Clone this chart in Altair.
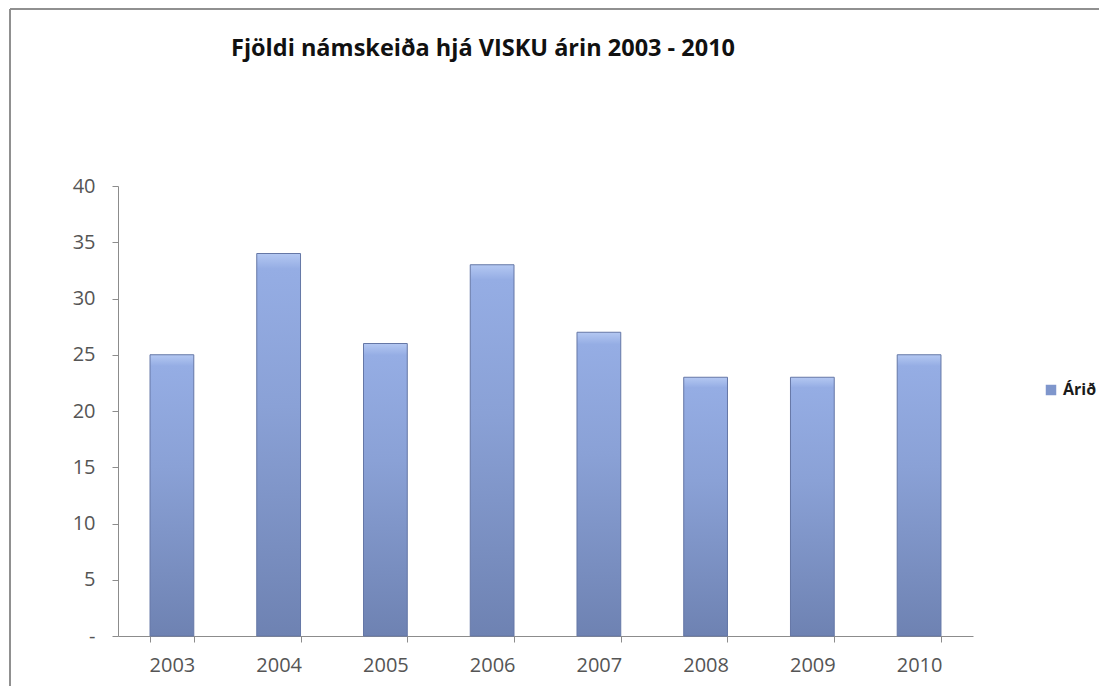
import altair as alt
import pandas as pd

years = ["2003", "2004", "2005", "2006", "2007", "2008", "2009", "2010"]
counts = [25, 34, 26, 33, 27, 23, 23, 25]
series_name = "Árið"
title_text = "Fjöldi námskeiða hjá VISKU árin 2003 - 2010"

df = pd.DataFrame({"year": years, "count": counts, "series": [series_name] * len(years), "zero": [0] * len(years)})

FONT = "Open Sans"

gradient = alt.Gradient(
    gradient="linear",
    x1=0, x2=0, y1=0, y2=1,
    stops=[
        alt.GradientStop(color="#b4c8f2", offset=0),
        alt.GradientStop(color="#95ade4", offset=0.04),
        alt.GradientStop(color="#8aa1d6", offset=0.4),
        alt.GradientStop(color="#6e82b2", offset=1),
    ],
)

x_enc = alt.X(
    "year:N",
    sort=years,
    scale=alt.Scale(paddingInner=0.59, paddingOuter=0.3),
    axis=alt.Axis(
        title=None, labelAngle=0, tickBand="extent", tickSize=6, tickColor="#8c8c8c",
        domainColor="#8c8c8c", labelColor="#555555", labelFont=FONT, labelFontSize=20,
        labelPadding=13,
    ),
)
y_scale = alt.Scale(domain=[0, 40], nice=False)
y_axis = alt.Axis(
    title=None, values=[0, 5, 10, 15, 20, 25, 30, 35, 40], grid=False, tickSize=6,
    tickColor="#8c8c8c", domainColor="#8c8c8c", labelColor="#555555", labelFont=FONT,
    labelFontSize=20, labelPadding=17,
    labelExpr="datum.value == 0 ? '-' : datum.label",
)

bars = alt.Chart(df).mark_bar(fill=gradient, stroke="#6577a6", strokeWidth=1).encode(
    x=x_enc,
    y=alt.Y("count:Q", scale=y_scale, axis=y_axis),
)

legend_layer = alt.Chart(df).mark_bar(strokeWidth=0).encode(
    x=x_enc,
    y=alt.Y("zero:Q", scale=y_scale, axis=y_axis),
    color=alt.Color(
        "series:N",
        scale=alt.Scale(domain=[series_name], range=["#7f96cc"]),
        legend=alt.Legend(
            title=None, orient="none", legendX=925, legendY=196, symbolType="square",
            symbolSize=110, symbolStrokeWidth=0, labelFont=FONT, labelFontSize=16,
            labelFontWeight="bold", labelColor="#1a1a1a", labelOffset=4,
        ),
    ),
)

frame = alt.Data(values=[{"a": 1}])
left_border = alt.Chart(frame).mark_rule(color="#909090", strokeWidth=2).encode(
    x=alt.value(-108), y=alt.value(-177), y2=alt.value(520)
)
top_border = alt.Chart(frame).mark_rule(color="#909090", strokeWidth=2).encode(
    x=alt.value(-108), x2=alt.value(1000), y=alt.value(-177)
)
title_mark = alt.Chart(pd.DataFrame({"t": [title_text]})).mark_text(
    font=FONT, fontSize=23.5, fontWeight="bold", color="#111111", align="center", baseline="middle"
).encode(text="t:N", x=alt.value(365), y=alt.value(-137))

chart = alt.layer(bars, legend_layer, left_border, top_border, title_mark).properties(
    width=855,
    height=450,
    padding={"left": 110, "top": 178, "right": 126, "bottom": 50},
    autosize=alt.AutoSizeParams(type="none"),
).configure_view(stroke=None)

chart.save("out.html", embed_options={"renderer": "svg", "actions": False})
